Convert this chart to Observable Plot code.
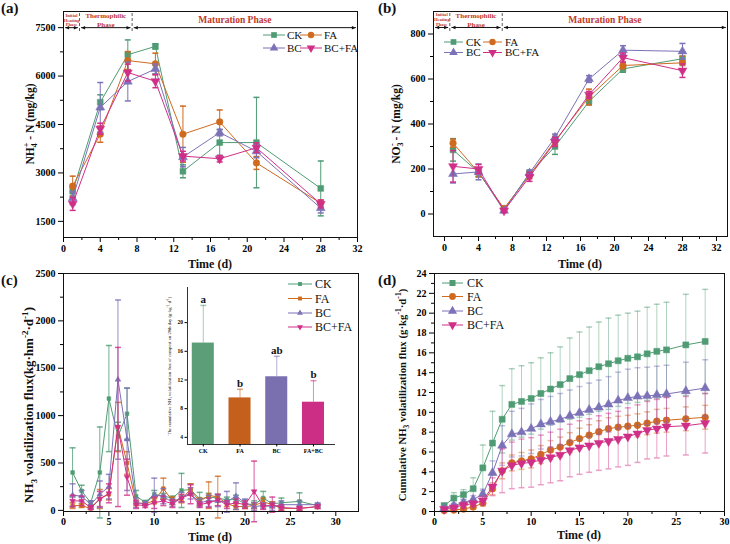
<!DOCTYPE html>
<html>
<head>
<meta charset="utf-8">
<script src="https://cdn.jsdelivr.net/npm/d3@7"></script>
<script src="https://cdn.jsdelivr.net/npm/@observablehq/plot@0.6"></script>
<style>
  body { margin: 0; background: #fff; }
  #fig { position: relative; width: 730px; height: 544px; overflow: hidden; background: #fff; }
  #fig svg { position: absolute; }
</style>
</head>
<body>
<div id="fig"></div>
<script>
// ---------- data ----------
const series = ["CK", "FA", "BC", "BC+FA"];
const colors = ["#4f9c74", "#cf6a1f", "#7c72b8", "#d02f88"];

// (a) NH4+-N and (b) NO3--N, sampling days
const sampleDays = [1, 4, 7, 10, 13, 17, 21, 28];
const nh4CK = [2430, 5190, 6660, 6920, 3050, 3940, 3940, 2520];
const nh4FA = [2590, 4200, 6480, 6380, 4200, 4580, 3310, 2060];
const nh4BC = [2220, 5030, 5830, 6220, 3490, 4250, 3670, 1910];
const nh4BCFA = [2040, 4370, 6110, 5840, 3520, 3440, 3780, 2040];
const nh4CKErr = [150, 230, 460, 80, 200, 400, 1400, 850];
const nh4FAErr = [310, 250, 280, 330, 870, 370, 200, 100];
const nh4BCErr = [200, 770, 600, 150, 300, 100, 200, 150];
const nh4BCFAErr = [200, 170, 260, 200, 150, 100, 150, 120];

const no3CK = [285, 185, 20, 180, 300, 500, 645, 690];
const no3FA = [315, 185, 25, 172, 325, 520, 660, 672];
const no3BC = [178, 187, 15, 182, 340, 600, 728, 723];
const no3BCFA = [212, 200, 15, 165, 320, 530, 695, 637];
const no3CKErr = [50, 20, 8, 15, 35, 15, 15, 30];
const no3FAErr = [18, 20, 8, 15, 20, 35, 15, 30];
const no3BCErr = [40, 35, 8, 12, 15, 15, 20, 35];
const no3BCFAErr = [70, 20, 8, 20, 20, 15, 20, 30];

// (c) daily NH3 volatilization flux and (d) cumulative flux
const fluxDays = [1, 2, 3, 4, 5, 6, 7, 8, 9, 10, 11, 12, 13, 14, 15, 16, 17, 18, 19, 20, 21, 22, 23, 24, 26, 28];
const fluxCK = [400, 205, 80, 400, 1180, 780, 1020, 150, 85, 170, 150, 130, 210, 220, 120, 140, 130, 110, 120, 70, 60, 130, 70, 80, 95, 50];
const fluxFA = [50, 50, 20, 120, 170, 880, 500, 80, 70, 100, 230, 100, 120, 220, 90, 160, 140, 70, 40, 40, 50, 90, 60, 20, 20, 40];
const fluxBC = [160, 150, 60, 170, 250, 1380, 750, 80, 70, 160, 150, 80, 140, 180, 80, 100, 100, 90, 150, 80, 40, 50, 40, 60, 60, 60];
const fluxBCFA = [100, 100, 30, 120, 180, 880, 350, 60, 50, 80, 100, 70, 130, 170, 60, 80, 110, 60, 80, 60, 200, 40, 60, 30, 20, 40];
const fluxCKErr = [260, 60, 20, 480, 560, 150, 270, 60, 20, 40, 30, 20, 180, 60, 70, 40, 40, 30, 40, 40, 40, 70, 20, 50, 90, 20];
const fluxFAErr = [30, 20, 10, 100, 60, 260, 120, 30, 20, 30, 110, 40, 40, 60, 40, 140, 220, 30, 30, 20, 30, 40, 30, 20, 20, 20];
const fluxBCErr = [120, 60, 40, 140, 130, 840, 540, 50, 20, 180, 80, 40, 50, 60, 40, 60, 60, 110, 140, 40, 40, 30, 40, 40, 40, 20];
const fluxBCFAErr = [60, 50, 20, 80, 100, 840, 190, 40, 20, 60, 50, 40, 40, 100, 30, 50, 60, 40, 40, 40, 320, 30, 80, 30, 20, 20];

const cumCK = [0.6, 1.35, 1.7, 2.3, 4.4, 6.9, 9.3, 10.8, 11.1, 11.4, 11.9, 12.35, 12.8, 13.4, 13.8, 14.2, 14.6, 14.9, 15.2, 15.45, 15.6, 15.9, 16.15, 16.3, 16.8, 17.15];
const cumFA = [0.1, 0.15, 0.25, 0.45, 0.85, 2.3, 4.1, 4.9, 5.1, 5.3, 5.75, 6.2, 6.5, 6.95, 7.35, 7.7, 8.05, 8.35, 8.5, 8.6, 8.7, 8.9, 9.1, 9.2, 9.35, 9.5];
const cumBC = [0.3, 0.6, 0.9, 1.2, 1.75, 3.9, 6.65, 7.8, 8.0, 8.35, 8.8, 9.05, 9.3, 9.65, 9.95, 10.25, 10.5, 10.8, 11.2, 11.45, 11.6, 11.65, 11.75, 11.85, 12.15, 12.45];
const cumBCFA = [0.25, 0.4, 0.65, 0.8, 1.1, 2.5, 4.1, 4.65, 4.85, 4.95, 5.2, 5.45, 5.7, 6.15, 6.45, 6.65, 6.9, 7.1, 7.3, 7.55, 7.85, 8.2, 8.35, 8.55, 8.65, 8.9];
const cumCKErr = [0.2, 0.55, 0.5, 1.1, 2.3, 3.2, 3.4, 3.6, 3.6, 3.6, 3.6, 3.65, 3.8, 4.1, 4.3, 4.4, 4.5, 4.6, 4.6, 4.55, 4.6, 4.7, 4.75, 4.8, 5.1, 5.25];
const cumFAErr = [0.05, 0.1, 0.15, 0.2, 0.3, 0.6, 0.8, 0.8, 0.85, 0.9, 0.9, 0.95, 1.0, 1.0, 1.05, 1.05, 1.1, 1.1, 1.1, 1.1, 1.15, 1.15, 1.2, 1.2, 1.2, 1.2];
const cumBCErr = [0.1, 0.2, 0.3, 0.4, 0.5, 1.2, 2.0, 2.3, 2.4, 2.5, 2.5, 2.55, 2.6, 2.6, 2.65, 2.7, 2.75, 2.8, 2.85, 2.9, 2.9, 2.9, 2.9, 2.9, 2.9, 2.85];
const cumBCFAErr = [0.1, 0.2, 0.3, 0.3, 0.4, 0.9, 2.2, 2.35, 2.45, 2.5, 2.5, 2.55, 2.6, 2.65, 2.7, 2.7, 2.75, 2.8, 2.8, 2.9, 2.9, 2.9, 2.95, 2.95, 2.95, 3.0];

// inset: cumulative flux on day 28 with significance letters
const insetCats = ["CK", "FA", "BC", "FA+BC"];
const insetLetters = ["a", "b", "ab", "b"];
const insetColors = ["#5c9e78", "#c45f1c", "#7a70b0", "#cc2e86"];

// composting phases (day boundaries) shown along the top of (a) and (b)
const phaseNames = ["Initial\nHeating\nPhase", "Thermophilic\nPhase", "Maturation Phase"];
const phasesA = [0, 1.74, 7.47, 32];
const phasesB = [-1.3, 0.62, 6.79, 33.3];

// ---------- helpers ----------
const FONT = "'Liberation Serif', 'Times New Roman', serif";
const RED = "#c0392b";
const fig = document.getElementById("fig");
const baseStyle = {fontFamily: FONT, fontSize: "10px", background: "transparent", overflow: "visible"};

const triDown = {
  draw(ctx, size) {
    const s = Math.sqrt(3), y = Math.sqrt(size / (s * 3));
    ctx.moveTo(0, 2 * y); ctx.lineTo(-s * y, -y); ctx.lineTo(s * y, -y); ctx.closePath();
  }
};
const capSym = {
  draw(ctx, size) { const w = Math.sqrt(size / Math.PI); ctx.moveTo(-w, 0); ctx.lineTo(w, 0); }
};
const headR = {
  draw(ctx, size) { const r = Math.sqrt(size / Math.PI); ctx.moveTo(0, 0); ctx.lineTo(-1.8 * r, -0.8 * r); ctx.lineTo(-1.8 * r, 0.8 * r); ctx.closePath(); }
};
const headL = {
  draw(ctx, size) { const r = Math.sqrt(size / Math.PI); ctx.moveTo(0, 0); ctx.lineTo(1.8 * r, -0.8 * r); ctx.lineTo(1.8 * r, 0.8 * r); ctx.closePath(); }
};
const symMain = [d3.symbolSquare, d3.symbolCircle, d3.symbolTriangle, triDown];
const symFlux = [d3.symbolSquare, d3.symbolSquare, d3.symbolTriangle, triDown];

const rows = (days, vals, errs) => days.map((d, i) => ({day: d, v: vals[i], e: errs[i]}));
const range = (a, b, s) => d3.range(a, b + s / 2, s);

function seriesMarks(data, color, symbol, r, errOpacity = 1, capR = 3) {
  return [
    Plot.ruleX(data, {x: "day", y1: d => d.v - d.e, y2: d => d.v + d.e, stroke: color, strokeOpacity: errOpacity, strokeWidth: 1}),
    Plot.dot(data, {x: "day", y: d => d.v + d.e, symbol: capSym, r: capR, stroke: color, fill: "none", strokeOpacity: errOpacity}),
    Plot.dot(data, {x: "day", y: d => d.v - d.e, symbol: capSym, r: capR, stroke: color, fill: "none", strokeOpacity: errOpacity}),
    Plot.line(data, {x: "day", y: "v", stroke: color, strokeWidth: 1}),
    Plot.dot(data, {x: "day", y: "v", symbol, r, fill: color, stroke: color, strokeWidth: 0.5})
  ];
}

function axes(xt, xm, yt, ym, xPad = 3) {
  return [
    Plot.axisX({ticks: xm, tickSize: 3, tickFormat: () => "", label: null}),
    Plot.axisY({ticks: ym, tickSize: 3, tickFormat: () => "", label: null}),
    Plot.axisX({ticks: xt, tickSize: 5, tickPadding: xPad, tickFormat: d => String(d), fontWeight: "bold", fontSize: 10, label: null}),
    Plot.axisY({ticks: yt, tickSize: 5, tickPadding: 3, tickFormat: d => String(d), fontWeight: "bold", fontSize: 10, label: null})
  ];
}

function phaseMarks(bounds, arrowY, dashFrom, top, labelY, gap) {
  const segs = d3.pairs(bounds).map(([a, b], i) => ({a: a + gap, b: b - gap, mid: (a + b) / 2, name: phaseNames[i]}));
  return [
    Plot.ruleX(bounds.slice(1, -1), {y1: dashFrom, y2: top, stroke: "#333", strokeWidth: 0.8, strokeDasharray: "3,2"}),
    Plot.link(segs, {x1: "a", x2: "b", y1: arrowY, y2: arrowY, stroke: "#111", strokeWidth: 1}),
    Plot.dot(segs, {x: "a", y: arrowY, symbol: headL, r: 2.2, fill: "#111", stroke: "none"}),
    Plot.dot(segs, {x: "b", y: arrowY, symbol: headR, r: 2.2, fill: "#111", stroke: "none"}),
    Plot.text(segs.slice(0, 1), {x: "mid", y: labelY, text: "name", fill: RED, fontWeight: "bold", fontSize: 4.6, lineHeight: 1}),
    Plot.text(segs.slice(1, 2), {x: "mid", y: labelY, text: "name", fill: RED, fontWeight: "bold", fontSize: 7, lineHeight: 1.25}),
    Plot.text(segs.slice(2, 3), {x: "mid", y: labelY, text: "name", fill: RED, fontWeight: "bold", fontSize: 9.5, dx: -10})
  ];
}

function place(svg, left, top) {
  svg.style.left = left + "px";
  svg.style.top = top + "px";
  fig.appendChild(svg);
}

// ---------- (a) NH4+-N ----------
const nh4 = [[nh4CK, nh4CKErr], [nh4FA, nh4FAErr], [nh4BC, nh4BCErr], [nh4BCFA, nh4BCFAErr]];
place(Plot.plot({
  width: 365, height: 272, marginTop: 11, marginRight: 8, marginBottom: 35, marginLeft: 63,
  x: {domain: [0, 32]}, y: {domain: [1000, 8000]},
  style: baseStyle,
  marks: [
    ...axes(range(0, 32, 4), range(2, 30, 4), range(1500, 7500, 1500), range(2250, 6750, 1500), 2),
    ...phaseMarks(phasesA, 7500, 7380, 8000, 7735, 0.18),
    ...nh4.flatMap(([v, e], i) => seriesMarks(rows(sampleDays, v, e), colors[i], symMain[i], 3.3)),
    Plot.frame({stroke: "#111"})
  ]
}), 0, 0);

// ---------- (b) NO3--N ----------
const no3 = [[no3CK, no3CKErr], [no3FA, no3FAErr], [no3BC, no3BCErr], [no3BCFA, no3BCFAErr]];
place(Plot.plot({
  width: 365, height: 272, marginTop: 11, marginRight: 3, marginBottom: 36, marginLeft: 68,
  x: {domain: [-1.3, 33.3]}, y: {domain: [-100, 900]},
  style: baseStyle,
  marks: [
    ...axes(range(0, 32, 4), range(2, 30, 4), range(0, 800, 200), range(100, 700, 200), 2),
    ...phaseMarks(phasesB, 829, 811, 900, 864, 0.2),
    ...no3.flatMap(([v, e], i) => seriesMarks(rows(sampleDays, v, e), colors[i], symMain[i], 3.3)),
    Plot.frame({stroke: "#111"})
  ]
}), 365, 0);

// ---------- (c) daily NH3 volatilization flux ----------
const flux = [[fluxCK, fluxCKErr], [fluxFA, fluxFAErr], [fluxBC, fluxBCErr], [fluxBCFA, fluxBCFAErr]];
place(Plot.plot({
  width: 365, height: 272, marginTop: 1, marginRight: 7, marginBottom: 33, marginLeft: 63,
  x: {domain: [0, 32.5]}, y: {domain: [-12, 2500]},
  style: baseStyle,
  marks: [
    ...axes(range(0, 30, 5), range(2.5, 27.5, 5), range(0, 2500, 500), range(250, 2250, 500), 1),
    ...flux.flatMap(([v, e], i) => seriesMarks(rows(fluxDays, v, e), colors[i], symFlux[i], 2.1, 0.8, 3)),
    Plot.frame({stroke: "#111"})
  ]
}), 0, 272);

// inset bar chart: cumulative flux on day 28
const cum = [[cumCK, cumCKErr], [cumFA, cumFAErr], [cumBC, cumBCErr], [cumBCFA, cumBCFAErr]];
const insetRows = cum.map(([v, e], i) => ({i, v: v[v.length - 1], e: e[e.length - 1], letter: insetLetters[i], color: insetColors[i]}));
const insetX = [-0.43, 3.6], insetY = [3, 24.9];
place(Plot.plot({
  width: 190, height: 175, marginTop: 7, marginRight: 5, marginBottom: 11, marginLeft: 37,
  x: {domain: insetX}, y: {domain: insetY}, color: {type: "identity"},
  style: {...baseStyle, fontSize: "6px"},
  marks: [
    Plot.rectY(insetRows, {x1: d => d.i - 0.3, x2: d => d.i + 0.3, y1: insetY[0], y2: "v", fill: "color"}),
    Plot.ruleX(insetRows, {x: "i", y1: "v", y2: d => d.v + d.e, stroke: "color", strokeOpacity: 0.55}),
    Plot.dot(insetRows, {x: "i", y: d => d.v + d.e, symbol: capSym, r: 3, stroke: "color", fill: "none", strokeOpacity: 0.55}),
    Plot.text(insetRows, {x: "i", y: d => d.v + d.e, text: "letter", dy: -6, fontSize: 11, fontWeight: "bold", fill: "#111"}),
    Plot.ruleY([insetY[0]], {stroke: "#333"}),
    Plot.ruleX([insetX[0]], {stroke: "#333"}),
    Plot.axisY({ticks: [4, 8, 12, 16, 20], tickSize: 2.5, tickPadding: 2, fontSize: 5.5, fontWeight: "bold", label: null}),
    Plot.axisX({ticks: [0, 1, 2, 3], tickFormat: i => insetCats[i], tickSize: 2.5, tickPadding: 2, fontSize: 6, fontWeight: "bold", label: null})
  ]
}), 150, 280);

// ---------- (d) cumulative NH3 volatilization flux ----------
place(Plot.plot({
  width: 365, height: 272, marginTop: 1, marginRight: 6, marginBottom: 33, marginLeft: 69,
  x: {domain: [0, 30]}, y: {domain: [0, 24]},
  style: baseStyle,
  marks: [
    ...axes(range(0, 30, 5), range(2.5, 27.5, 5), range(0, 24, 2), range(1, 23, 2), 1),
    ...cum.flatMap(([v, e], i) => seriesMarks(rows(fluxDays, v, e), colors[i], symMain[i], 3.4, 0.45, 3)),
    Plot.frame({stroke: "#111"})
  ]
}), 365, 272);

// ---------- titles, panel letters and legends ----------
const overlay = d3.create("svg").attr("width", 730).attr("height", 544).style("left", "0px").style("top", "0px");

function rich(x, y, parts, {size = 12, weight = "bold", rotate = 0, anchor = "middle"} = {}) {
  const t = overlay.append("text")
    .attr("transform", `translate(${x},${y}) rotate(${rotate})`)
    .attr("text-anchor", anchor).attr("font-family", FONT)
    .attr("font-size", size).attr("font-weight", weight).attr("fill", "#111");
  let cur = 0;
  for (const p of parts) {
    const [txt, kind, dx] = typeof p === "string" ? [p] : p;
    const target = kind === "sub" ? 0.3 * size : kind === "sup" ? -0.42 * size : 0;
    const sp = t.append("tspan").text(txt).attr("dy", target - cur);
    if (kind) sp.attr("font-size", size * 0.7);
    if (dx) sp.attr("dx", dx * size);
    cur = target;
  }
}

rich(1, 13, ["(a)"], {size: 15, anchor: "start"});
rich(378, 13, ["(b)"], {size: 15, anchor: "start"});
rich(1, 285, ["(c)"], {size: 15, anchor: "start"});
rich(378, 285, ["(d)"], {size: 15, anchor: "start"});

rich(210, 268, ["Time (d)"], {size: 12});
rich(580, 268, ["Time (d)"], {size: 12});
rich(210, 541, ["Time (d)"], {size: 12});
rich(579, 539, ["Time (d)"], {size: 12});

rich(34, 124, ["NH", ["4", "sub"], ["+", "sup", -0.35], " - N (mg/kg)"], {size: 11.5, rotate: -90});
rich(400, 124, ["NO", ["3", "sub"], ["-", "sup", -0.3], " - N (mg/kg)"], {size: 11.5, rotate: -90});
rich(33, 405, ["NH", ["3", "sub"], " volatilization flux(kg·hm", ["-2", "sup"], "·d", ["-1", "sup"], ")"], {size: 13, rotate: -90});
rich(406, 395, ["Cumulative NH", ["3", "sub"], " volatilization flux (g·kg", ["-1", "sup"], "·d", ["-1", "sup"], ")"], {size: 10.8, rotate: -90});
rich(170.5, 366, ["The cumulative NH", ["3", "sub"], " volatilization flux of compost on 28th day (g·kg", ["-1", "sup"], "·d", ["-1", "sup"], ")"], {size: 4.6, weight: "normal", rotate: -90});

function legend(entries, syms, lineLen, r, size, gap) {
  for (const {i, x, y} of entries) {
    const g = overlay.append("g");
    g.append("line").attr("x1", x).attr("x2", x + lineLen).attr("y1", y).attr("y2", y)
      .attr("stroke", colors[i]).attr("stroke-width", 1);
    g.append("path").attr("d", d3.symbol(syms[i], Math.PI * r * r)())
      .attr("transform", `translate(${x + lineLen / 2},${y})`).attr("fill", colors[i]);
    g.append("text").attr("x", x + lineLen + gap).attr("y", y).attr("dy", "0.35em")
      .attr("font-family", FONT).attr("font-size", size).attr("fill", "#111").text(series[i]);
  }
}

legend([{i: 0, x: 263, y: 35}, {i: 1, x: 300, y: 35}, {i: 2, x: 263, y: 48}, {i: 3, x: 300, y: 48}], symMain, 22, 3.2, 11, 2);
legend([{i: 0, x: 444, y: 42}, {i: 1, x: 483, y: 42}, {i: 2, x: 444, y: 52.5}, {i: 3, x: 483, y: 52.5}], symMain, 19, 3.2, 11, 3);
legend([{i: 0, x: 288, y: 284}, {i: 1, x: 288, y: 298.5}, {i: 2, x: 288, y: 313}, {i: 3, x: 288, y: 327}], symFlux, 24, 2.2, 12, 3);
legend([{i: 0, x: 442, y: 283}, {i: 1, x: 442, y: 296.5}, {i: 2, x: 442, y: 311}, {i: 3, x: 442, y: 325}], symMain, 21, 3.4, 12, 4);

fig.appendChild(overlay.node());
</script>
</body>
</html>
